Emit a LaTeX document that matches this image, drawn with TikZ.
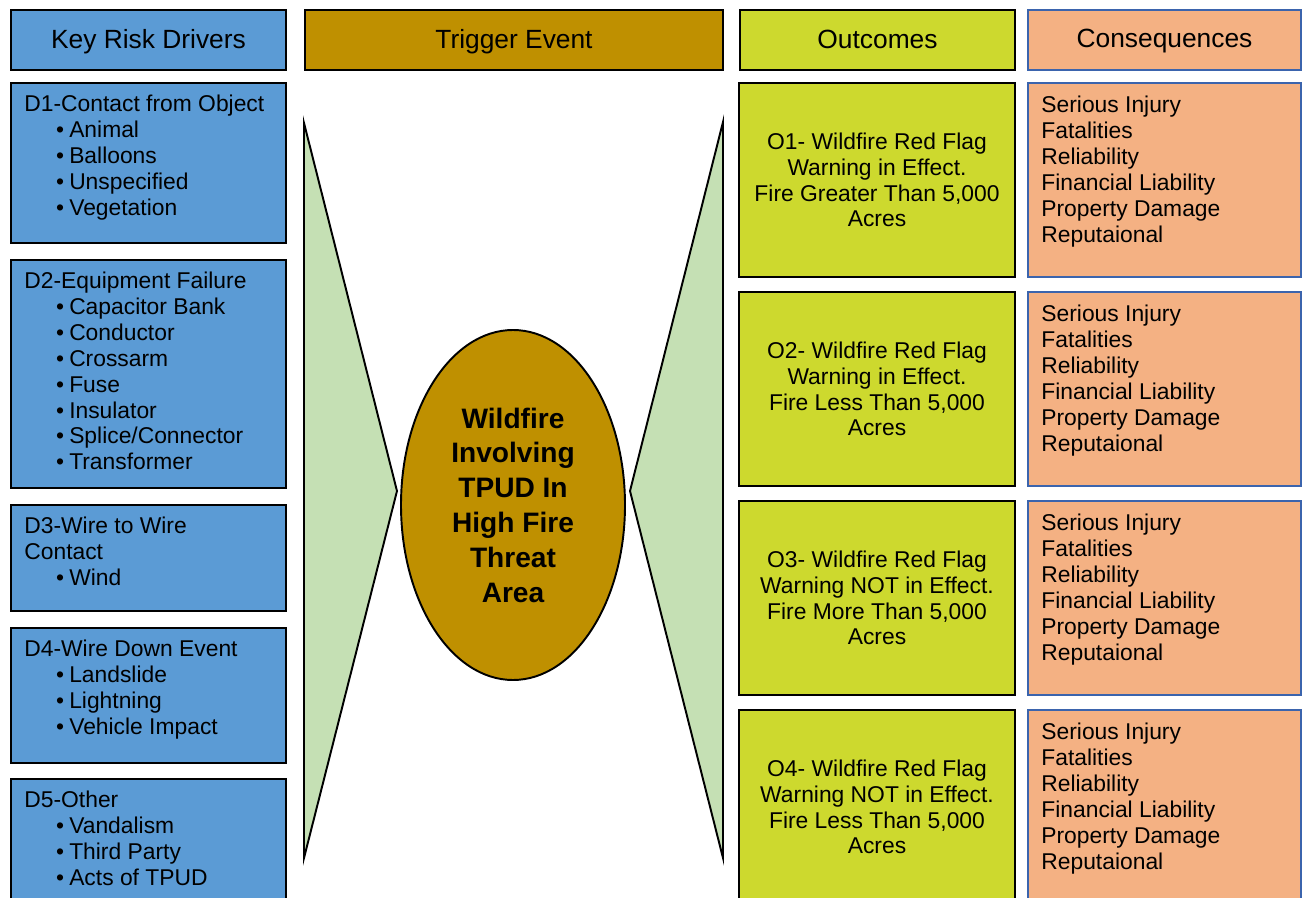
\documentclass[tikz,border=0pt]{standalone}
\usepackage{fontspec}
\setmainfont{Liberation Sans}
\usetikzlibrary{shapes.geometric, fit, calc, positioning}

\definecolor{riskblue}{RGB}{91,155,213}
\definecolor{triggergold}{RGB}{191,144,0}
\definecolor{outlime}{RGB}{205,217,46}
\definecolor{conssalmon}{RGB}{244,177,131}
\definecolor{consline}{RGB}{59,100,173}
\definecolor{funnelgreen}{RGB}{197,224,180}

\newcommand\headsize{\fontsize{15}{18}\selectfont}
\newcommand\txtsize{\fontsize{13}{14.7}\selectfont}
\newcommand\bul{\hspace*{18pt}\textbullet\hspace{3pt}}
\newcommand\conslist{Serious Injury\\Fatalities\\Reliability\\Financial Liability\\Property Damage\\Reputaional}

\tikzset{
x=0.02cm, y=-0.02cm, % one unit is one pixel of the layout, y runs down
box/.style={draw=black, line width=1.1pt, inner sep=0pt}, % every coloured box
drvbox/.style={box, fill=riskblue}, % key risk drivers
trgbox/.style={box, fill=triggergold}, % trigger event
outbox/.style={box, fill=outlime}, % outcomes
consbox/.style={box, draw=consline, fill=conssalmon}, % consequences
headtext/.style={font=\headsize, anchor=base, inner sep=0pt}, % column headings
outtext/.style={align=center, font=\txtsize, inner sep=0pt}, % outcome text
listtext/.style={anchor=north west, inner sep=0pt, align=left, font=\txtsize}, % text in the lists
funnel/.style={draw=black, line width=1.1pt, fill=funnelgreen, line join=miter}, % the green wedges
}

\begin{document}
\begin{tikzpicture}
\useasboundingbox (0,0) rectangle (1302,898);
\clip (0,0) rectangle (1302,898);

% headings
\node[drvbox, fit={(11,10) (286,70)}] (hd) {};
\node[headtext] (hdt) at ($(hd.center)+(0,9)$) {Key Risk Drivers};
\node[trgbox, fit={(305,10) (723,70)}] (ht) {};
\node[headtext] (htt) at ($(ht.center)+(0,9)$) {Trigger Event};
\node[outbox, fit={(740,10) (1015,70)}] (ho) {};
\node[headtext] (hot) at ($(ho.center)+(0,9)$) {Outcomes};
\node[consbox, fit={(1028,10) (1301,70)}] (hc) {};
\node[headtext] (hct) at ($(hc.center)+(0,8)$) {Consequences};

% key risk drivers
\node[drvbox, fit={(11,83) (286,243)}] (d1) {};
\node[listtext] (d1t) at ($(d1.north west)+(14,13)$) {D1-Contact from Object\\\bul Animal\\\bul Balloons\\\bul Unspecified\\\bul Vegetation};
\node[drvbox, fit={(11,260) (286,488)}] (d2) {};
\node[listtext] (d2t) at ($(d2.north west)+(14,13)$) {D2-Equipment Failure\\\bul Capacitor Bank\\\bul Conductor\\\bul Crossarm\\\bul Fuse\\\bul Insulator\\\bul Splice/Connector\\\bul Transformer};
\node[drvbox, fit={(11,505) (286,611)}] (d3) {};
\node[listtext] (d3t) at ($(d3.north west)+(14,13)$) {D3-Wire to Wire\\Contact\\\bul Wind};
\node[drvbox, fit={(11,628) (286,763)}] (d4) {};
\node[listtext] (d4t) at ($(d4.north west)+(14,13)$) {D4-Wire Down Event\\\bul Landslide\\\bul Lightning\\\bul Vehicle Impact};
\node[drvbox, fit={(11,779) (286,915)}] (d5) {};
\node[listtext] (d5t) at ($(d5.north west)+(14,13)$) {D5-Other\\\bul Vandalism\\\bul Third Party\\\bul Acts of TPUD};

% wedges and trigger event
\draw[funnel] (304,123) -- (397,491) -- (304,858) -- cycle;
\draw[funnel] (723,122) -- (630,491) -- (723,858) -- cycle;
\node[ellipse, draw=black, line width=1.1pt, fill=triggergold, minimum width=224*0.02cm, minimum height=350*0.02cm, inner sep=0pt,
      align=center, font=\fontsize{16}{19.8}\selectfont\bfseries] (ev) at (513,505) {Wildfire\\Involving\\TPUD In\\High Fire\\Threat\\Area};

% outcomes
\node[outbox, fit={(739,83) (1015,277)}] (o1) {};
\node[outtext] (o1t) at (o1.center) {O1- Wildfire Red Flag\\Warning in Effect.\\Fire Greater Than 5,000\\Acres};
\node[outbox, fit={(739,292) (1015,486)}] (o2) {};
\node[outtext] (o2t) at (o2.center) {O2- Wildfire Red Flag\\Warning in Effect.\\Fire Less Than 5,000\\Acres};
\node[outbox, fit={(739,501) (1015,695)}] (o3) {};
\node[outtext] (o3t) at (o3.center) {O3- Wildfire Red Flag\\Warning NOT in Effect.\\Fire More Than 5,000\\Acres};
\node[outbox, fit={(739,710) (1015,904)}] (o4) {};
\node[outtext] (o4t) at (o4.center) {O4- Wildfire Red Flag\\Warning NOT in Effect.\\Fire Less Than 5,000\\Acres};

% consequences
\node[consbox, fit={(1028,83) (1301,277)}] (c1) {};
\node[listtext] (c1t) at ($(c1.north west)+(14,14)$) {\conslist};
\node[consbox, fit={(1028,292) (1301,486)}] (c2) {};
\node[listtext] (c2t) at ($(c2.north west)+(14,14)$) {\conslist};
\node[consbox, fit={(1028,501) (1301,695)}] (c3) {};
\node[listtext] (c3t) at ($(c3.north west)+(14,14)$) {\conslist};
\node[consbox, fit={(1028,710) (1301,904)}] (c4) {};
\node[listtext] (c4t) at ($(c4.north west)+(14,14)$) {\conslist};

\end{tikzpicture}
\end{document}
